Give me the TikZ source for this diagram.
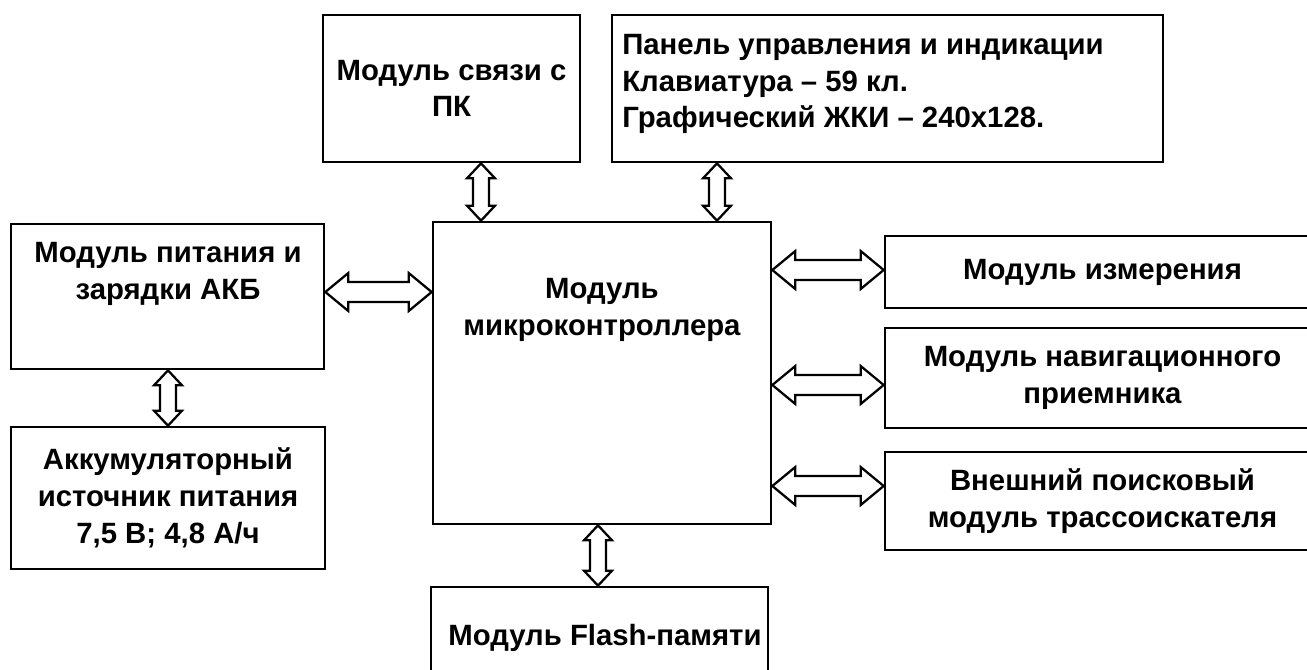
\documentclass[tikz,border=0pt]{standalone}
\usepackage{fontspec}
\setmainfont{Liberation Sans}
\usetikzlibrary{calc}
\tikzset{
  x=0.75pt, y=-0.75pt,
  lbl/.style={inner sep=0pt, align=center, font=\fontsize{22}{27.5}\selectfont\bfseries},
  box/.style={lbl, draw, line width=2pt, fill=white},
  barrow/.style={draw, line width=1.7pt, fill=white, line join=miter},
}
\newcommand\bx[6]{\node[box, minimum width={(#4-#2)*0.75pt}, minimum height={(#5-#3)*0.75pt}] (#1) at ({(#2+#4)/2},{(#3+#5)/2}) {#6};}
% horizontal hollow double arrow: #1 left node, #2 right node, #3 y, #4 id
\newcommand\harr[4]{%
  \coordinate (#4a) at (#1.east |- 0,#3);
  \coordinate (#4b) at (#2.west |- 0,#3);
  \draw[barrow] (#4a) -- ($(#4a)+(23,-19)$) -- ($(#4a)+(23,-10)$) -- ($(#4b)+(-23,-10)$) -- ($(#4b)+(-23,-19)$) -- (#4b)
     -- ($(#4b)+(-23,19)$) -- ($(#4b)+(-23,10)$) -- ($(#4a)+(23,10)$) -- ($(#4a)+(23,19)$) -- cycle;}
% vertical hollow double arrow: #1 upper node, #2 lower node, #3 x, #4 id
\newcommand\varr[4]{%
  \coordinate (#4a) at (#3,0 |- #1.south);
  \coordinate (#4b) at (#3,0 |- #2.north);
  \draw[barrow] (#4a) -- ($(#4a)+(14,15)$) -- ($(#4a)+(8,15)$) -- ($(#4b)+(8,-15)$) -- ($(#4b)+(14,-15)$) -- (#4b)
     -- ($(#4b)+(-14,-15)$) -- ($(#4b)+(-8,-15)$) -- ($(#4a)+(-8,15)$) -- ($(#4a)+(-14,15)$) -- cycle;}
\begin{document}
\begin{tikzpicture}
\useasboundingbox[fill=white] (0,0) rectangle (1307,669);
\bx{pk}{323}{15}{580}{162}{Модуль связи с\\ПК}
\bx{panel}{612}{15}{1163}{162}{}
\node[lbl, anchor=west, align=left] (paneltxt) at (622,84) {Панель управления и индикации\\Клавиатура -- 59 кл.\\Графический ЖКИ -- 240x128.};
\bx{power}{11}{224}{324}{369}{}
\node[lbl] (powertxt) at (168,274) {Модуль питания и\\зарядки АКБ};
\bx{batt}{11}{427}{325}{569}{Аккумуляторный\\источник питания\\7,5 В; 4,8 А/ч}
\bx{mcu}{433}{222}{771}{524}{}
\node[lbl] (mcutxt) at (602,310) {Модуль\\микроконтроллера};
\bx{flash}{431}{587}{768}{720}{}
\node[lbl] (flashtxt) at (605,638) {Модуль Flash-памяти};
\bx{meas}{885}{236}{1320}{308}{Модуль измерения}
\bx{nav}{885}{328}{1320}{428}{Модуль навигационного\\приемника}
\bx{ext}{885}{452}{1320}{550}{Внешний поисковый\\модуль трассоискателя}
\varr{pk}{mcu}{481}{v1}
\varr{panel}{mcu}{717}{v2}
\varr{power}{batt}{168}{v3}
\varr{mcu}{flash}{598}{v4}
\harr{power}{mcu}{292}{h1}
\harr{mcu}{meas}{270}{h2}
\harr{mcu}{nav}{385}{h3}
\harr{mcu}{ext}{486}{h4}
\end{tikzpicture}
\end{document}
